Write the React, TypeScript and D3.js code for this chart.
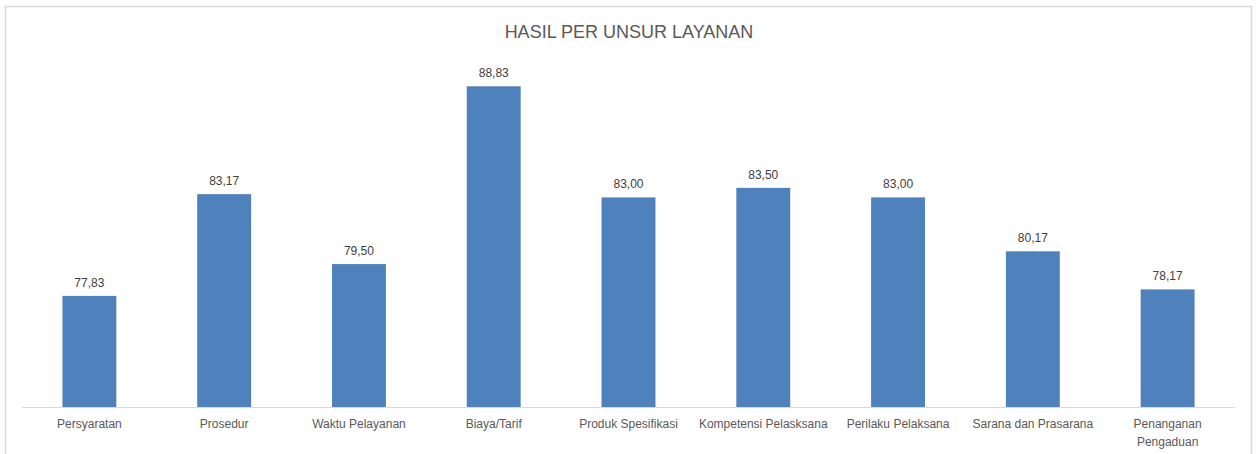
import { useEffect, useRef } from 'react';
import * as d3 from 'd3';

const categories = [
  'Persyaratan',
  'Prosedur',
  'Waktu Pelayanan',
  'Biaya/Tarif',
  'Produk Spesifikasi',
  'Kompetensi Pelasksana',
  'Perilaku Pelaksana',
  'Sarana dan Prasarana',
  'Penanganan Pengaduan',
];
const values = [77.83, 83.17, 79.5, 88.83, 83.0, 83.5, 83.0, 80.17, 78.17];
const yDomain = [72, 90];
const title = 'HASIL PER UNSUR LAYANAN';

const W = 1257;
const H = 454;
const FONT = '"Liberation Sans", Arial, sans-serif';

export default function App() {
  const svgRef = useRef<SVGSVGElement>(null);

  useEffect(() => {
    if (!svgRef.current) return;
    const svg = d3.select(svgRef.current);
    svg.selectAll('*').remove();

    const plot = { left: 22, right: 1235, top: 64, bottom: 407 };

    // chart area border
    svg.append('rect')
      .attr('x', 5.5)
      .attr('y', 6.5)
      .attr('width', 1246)
      .attr('height', 460)
      .attr('fill', '#fff')
      .attr('stroke', '#d9d9d9')
      .attr('stroke-width', 1.5);

    svg.append('text')
      .attr('x', 629)
      .attr('y', 38)
      .attr('text-anchor', 'middle')
      .attr('font-family', FONT)
      .attr('font-size', '18px')
      .attr('fill', '#595959')
      .text(title);

    const x = d3.scaleBand<string>()
      .domain(categories)
      .range([plot.left, plot.right])
      .paddingInner(0.6)
      .paddingOuter(0.3);

    const y = d3.scaleLinear()
      .domain(yDomain)
      .range([plot.bottom, plot.top]);

    const data = categories.map((c, i) => ({ c, v: values[i] }));

    svg.append('g')
      .selectAll('rect')
      .data(data)
      .join('rect')
      .attr('x', d => x(d.c)!)
      .attr('y', d => y(d.v))
      .attr('width', x.bandwidth())
      .attr('height', d => y(yDomain[0]) - y(d.v))
      .attr('fill', '#4f81bd');

    svg.append('line')
      .attr('x1', plot.left)
      .attr('x2', plot.right)
      .attr('y1', plot.bottom + 0.5)
      .attr('y2', plot.bottom + 0.5)
      .attr('stroke', '#d9d9d9')
      .attr('stroke-width', 1);

    svg.append('g')
      .selectAll('text')
      .data(data)
      .join('text')
      .attr('x', d => x(d.c)! + x.bandwidth() / 2)
      .attr('y', d => y(d.v) - 9)
      .attr('text-anchor', 'middle')
      .attr('font-family', FONT)
      .attr('font-size', '12px')
      .attr('fill', '#404040')
      .text(d => d.v.toFixed(2).replace('.', ','));

    const labels = svg.append('g')
      .selectAll('text')
      .data(categories)
      .join('text')
      .attr('x', d => x(d)! + x.bandwidth() / 2)
      .attr('y', 428)
      .attr('text-anchor', 'middle')
      .attr('font-family', FONT)
      .attr('font-size', '12px')
      .attr('fill', '#595959');

    labels.each(function (d) {
      const t = d3.select(this);
      const words = d === 'Penanganan Pengaduan' ? d.split(' ') : [d];
      words.forEach((w, i) => {
        t.append('tspan')
          .attr('x', x(d)! + x.bandwidth() / 2)
          .attr('dy', i === 0 ? 0 : 18)
          .text(w);
      });
    });
  }, []);

  return (
    <div style={{ position: 'fixed', left: 0, top: 0, width: W, height: H, background: '#fff' }}>
      <svg ref={svgRef} width={W} height={H} style={{ display: 'block' }} />
    </div>
  );
}
